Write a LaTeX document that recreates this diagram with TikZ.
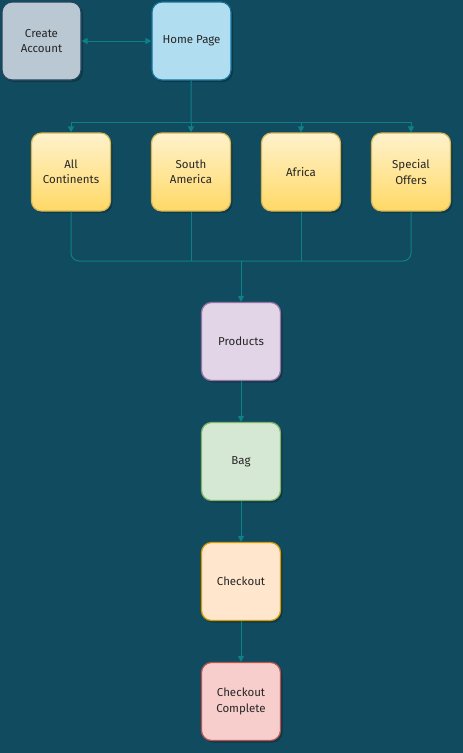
\documentclass[tikz,border=0pt]{standalone}
\usepackage{fontspec}
\setmainfont{Fira Sans}
\usepackage{tikz}
\usetikzlibrary{positioning, shapes, arrows.meta, shadows}

\definecolor{bgcol}{HTML}{114B5F}
\definecolor{linkcol}{HTML}{0E8088}
\definecolor{greyfill}{HTML}{BAC8D3}
\definecolor{greydraw}{HTML}{23445D}
\definecolor{bluefill}{HTML}{B1DDF0}
\definecolor{bluedraw}{HTML}{10739E}
\definecolor{yeltop}{HTML}{FFF2CC}
\definecolor{yelbot}{HTML}{FFD966}
\definecolor{yeldraw}{HTML}{D6B656}
\definecolor{purfill}{HTML}{E1D5E7}
\definecolor{purdraw}{HTML}{9673A6}
\definecolor{grnfill}{HTML}{D5E8D4}
\definecolor{grndraw}{HTML}{82B366}
\definecolor{orgfill}{HTML}{FFE6CC}
\definecolor{orgdraw}{HTML}{D79B00}
\definecolor{redfill}{HTML}{F8CECC}
\definecolor{reddraw}{HTML}{B85450}

\tikzset{
    page/.style={rectangle, rounded corners=10pt, minimum width=79pt, minimum height=78pt,
        line width=1.2pt, align=center, text=black!85, font=\fontsize{11.5}{15.5}\selectfont,
        drop shadow={shadow xshift=2pt, shadow yshift=-2pt, fill=black, opacity=0.25}},
    region/.style={page, draw=yeldraw, top color=yeltop, bottom color=yelbot},
    line/.style={draw=linkcol, line width=1pt},
    link/.style={line, -{Triangle[length=6pt, width=6pt]}},
}

\begin{document}
\begin{tikzpicture}[x=1pt, y=-1pt]
        \fill[bgcol] (0,0) rectangle (463,753);
        \useasboundingbox (0,0) rectangle (463,753);

        \node[page, fill=greyfill, draw=greydraw] (account) at (41.5,41) {Create\\Account};
        \node[page, fill=bluefill, draw=bluedraw] (home) at (191.5,41) {Home Page};
        \draw[link, {Triangle[length=6pt, width=6pt]}-{Triangle[length=6pt, width=6pt]}] (account) -- (home);

        % continents row
        \foreach \name/\x/\txt in {all/71/All\\Continents, south/191/South\\America, africa/301/Africa, offers/411/Special\\Offers}
            \node[region] (\name) at (\x,172) {\txt};

        \coordinate (split) at (191,122);
        \coordinate (merge) at (241,261);
        \draw[line] (home) -- (split);
        \foreach \name in {all, south, africa, offers}
            \draw[link] (split) -| (\name);
        \draw[line, rounded corners=8pt] (all.south) |- (merge);
        \draw[line, rounded corners=8pt] (offers.south) |- (merge);
        \foreach \name in {south, africa}
            \draw[line] (\name.south) -- (\name.south |- merge);

        % checkout chain
        \node[page, fill=purfill, draw=purdraw] (products) at (241,341.5) {Products};
        \node[page, fill=grnfill, draw=grndraw] (bag) at (241,461.5) {Bag};
        \node[page, fill=orgfill, draw=orgdraw] (checkout) at (241,581.5) {Checkout};
        \node[page, fill=redfill, draw=reddraw] (done) at (241,701.5) {Checkout\\Complete};

        \draw[link] (merge) -- (products);
        \draw[link] (products) -- (bag);
        \draw[link] (bag) -- (checkout);
        \draw[link] (checkout) -- (done);
    \end{tikzpicture}
\end{document}
